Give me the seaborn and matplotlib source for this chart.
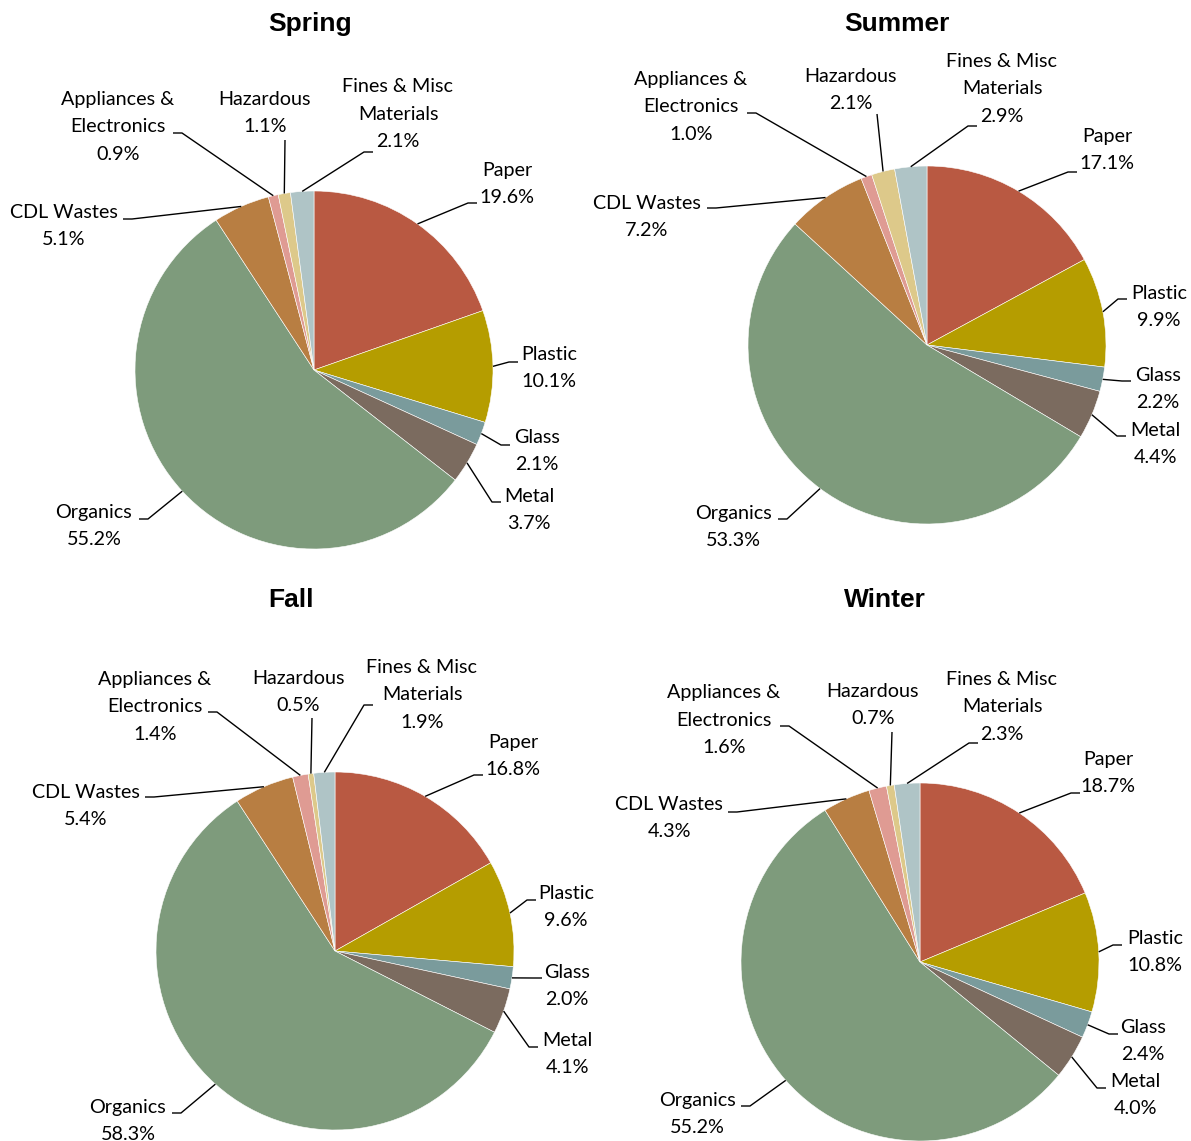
import numpy as np
import matplotlib
matplotlib.use("Agg")
import matplotlib.pyplot as plt
import seaborn as sns

# ---- data ----
categories = ["Paper", "Plastic", "Glass", "Metal", "Organics", "CDL Wastes",
              "Appliances &\nElectronics", "Hazardous", "Fines & Misc\nMaterials"]
seasons = ["Spring", "Summer", "Fall", "Winter"]
spring = [19.6, 10.1, 2.1, 3.7, 55.2, 5.1, 0.9, 1.1, 2.1]
summer = [17.1, 9.9, 2.2, 4.4, 53.3, 7.2, 1.0, 2.1, 2.9]
fall = [16.8, 9.6, 2.0, 4.1, 58.3, 5.4, 1.4, 0.5, 1.9]
winter = [18.7, 10.8, 2.4, 4.0, 55.2, 4.3, 1.6, 0.7, 2.3]
season_values = [spring, summer, fall, winter]

colors = ["#B95942", "#B59D00", "#7A9B9C", "#7B6B5F", "#7E9B7C",
          "#B87E42", "#DF9B93", "#DDC98A", "#AFC4C6"]

# ---- layout (pixel coordinates, top-left origin) ----
W, H = 1191, 1141
R = 179
pie_centers = [(314, 370), (927, 345), (335, 951), (920, 962)]
title_pos = [(310, 24), (897, 24), (291, 600), (885, 600)]
# per label: (text block center), (tick end near text), side (+1 text right, -1 text left, 0 none)
label_layout = [
    [((507, 184), (477, 203), 1), ((549, 368), (518, 362), 1), ((537, 451), (510, 445), 1),
     ((529, 510), (501, 502), 1), ((94, 526), (139, 519), -1), ((64, 226), (123, 219), -1),
     ((118, 127), (173, 133), -1), ((265, 113), (285, 140), 0), ((398, 114), (373, 152), 1)],
    [((1107, 150), (1077, 172), 1), ((1159, 307), (1127, 299), 1), ((1158, 389), (1131, 381), 1),
     ((1155, 444), (1126, 436), 1), ((733, 527), (778, 519), -1), ((647, 217), (707, 208), -1),
     ((691, 107), (747, 113), -1), ((851, 90), (877, 114), 0), ((1002, 89), (977, 126), 1)],
    [((513, 756), (483, 775), 1), ((566, 907), (536, 900), 1), ((567, 986), (542, 978), 1),
     ((567, 1054), (538, 1047), 1), ((128, 1121), (172, 1113), -1), ((86, 806), (145, 797), -1),
     ((155, 707), (208, 712), -1), ((298, 692), (312, 718), 0), ((422, 695), (373, 705), 1)],
    [((1108, 773), (1080, 793), 1), ((1155, 952), (1122, 945), 1), ((1143, 1041), (1118, 1034), 1),
     ((1135, 1095), (1106, 1088), 1), ((697, 1114), (741, 1106), -1), ((669, 818), (728, 812), -1),
     ((724, 720), (780, 726), -1), ((873, 705), (892, 732), 0), ((1002, 707), (978, 743), 1)],
]

sns.set_theme(style="white")
plt.rcParams["font.family"] = ["Lato", "DejaVu Sans"]
plt.rcParams["text.color"] = "black"

fig = plt.figure(figsize=(W / 100, H / 100), dpi=100)
ax = fig.add_axes([0, 0, 1, 1])
ax.set_xlim(0, W)
ax.set_ylim(0, H)
ax.set_axis_off()

pal = sns.color_palette(colors)

def fy(y):
    return H - y

for s, (name, vals) in enumerate(zip(seasons, season_values)):
    cx, cy = pie_centers[s]
    wedges, _ = ax.pie(vals, colors=pal, startangle=90, counterclock=False,
                       center=(cx, fy(cy)), radius=R, frame=True,
                       wedgeprops=dict(edgecolor="white", linewidth=0.4))
    tx, ty = title_pos[s]
    ax.text(tx, fy(ty), name, ha="center", va="center", fontsize=19, color="black",
            fontweight="bold", family=["Liberation Sans", "DejaVu Sans"])
    for i, w in enumerate(wedges):
        (lx, ly), (tkx, tky), side = label_layout[s][i]
        ax.text(lx, fy(ly), f"{categories[i]}\n{vals[i]:.1f}%", ha="center", va="center",
                fontsize=14.2, linespacing=1.72, color="black")
        mid = np.deg2rad((w.theta1 + w.theta2) / 2)
        px = w.center[0] + w.r * np.cos(mid)
        py = w.center[1] + w.r * np.sin(mid)
        ex = tkx - 9 * side
        xs = [px, ex, tkx]
        ys = [py, fy(tky), fy(tky)]
        ax.plot(xs, ys, color="black", lw=1.0, solid_capstyle="butt")

ax.set_xlim(0, W)
ax.set_ylim(0, H)
ax.set_aspect("equal")
ax.set_position([0, 0, 1, 1])
ax.set_axis_off()
fig.savefig("out.png", dpi=100)
